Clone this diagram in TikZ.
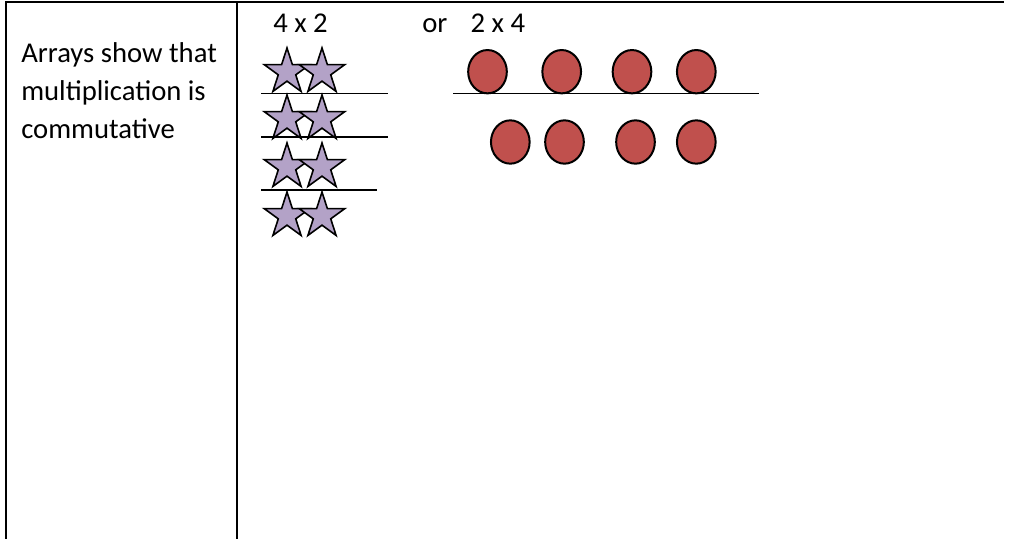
\documentclass[tikz,border=0pt]{standalone}
\usepackage{fontspec}
\setmainfont{Carlito}
\usetikzlibrary{shapes.geometric}
\definecolor{starfill}{HTML}{B3A2C7}
\definecolor{dotfill}{HTML}{C0504D}
\tikzset{
  rule/.style={line width=1.5pt},
  sepline/.style={line width=1.1pt},
  label/.style={inner sep=0pt, anchor=base west, font=\fontsize{21.5}{26}\selectfont},
  starnode/.style={star, star points=5, star point ratio=2.618, minimum size=36pt,
    inner sep=0pt, draw=black, line width=1.2pt, fill=starfill},
  dotnode/.style={ellipse, minimum width=29pt, minimum height=32.5pt,
    inner sep=0pt, draw=black, line width=1.5pt, fill=dotfill},
}
\begin{document}
\begin{tikzpicture}[x=0.75pt,y=-0.75pt]
\useasboundingbox (0,0) rectangle (1011,539);

% table rules
\coordinate (tl) at (6,2);
\coordinate (tr) at (1004,2);
\coordinate (bl) at (6,539);
\coordinate (mt) at (237,2);
\coordinate (mb) at (237,539);
\draw[rule] (tl) -- (tr);
\draw[rule] ([yshift=0.75pt]tl) -- (bl);
\draw[rule] (mt) -- (mb);

% left column text
\node[label] (l1) at (21,62) {Arrays show that};
\node[label] (l2) at (21,100) {multiplication is};
\node[label] (l3) at (21,138) {commutative};

% headings
\node[label] (h1) at (273,32) {4 x 2};
\node[label] (h2) at (422,32) {or\hspace{17.5pt}2 x 4};

% stars: four rows of two
\foreach \r/\y in {1/72,2/119,3/167,4/216}{
  \node[starnode] (s\r a) at (287,\y) {};
  \node[starnode] (s\r b) at (322,\y) {};
}
\coordinate (g1a) at (261,93.5);  \coordinate (g1b) at (388,93.5);
\coordinate (g2a) at (261,137);   \coordinate (g2b) at (388,137);
\coordinate (g3a) at (261,190);   \coordinate (g3b) at (377,190);
\draw[sepline] (g1a) -- (g1b);
\draw[sepline] (g2a) -- (g2b);
\draw[sepline] (g3a) -- (g3b);

% dots: two rows of four
\foreach \i/\x in {1/487.5,2/561.7,3/632,4/696.3}{
  \node[dotnode] (d1\i) at (\x,71.7) {};
}
\foreach \i/\x in {1/510.3,2/564.5,3/635.5,4/696.3}{
  \node[dotnode] (d2\i) at (\x,142) {};
}
\coordinate (ga) at (453,93.5);
\coordinate (gb) at (759,93.5);
\draw[sepline] (ga) -- (gb);
\end{tikzpicture}
\end{document}
